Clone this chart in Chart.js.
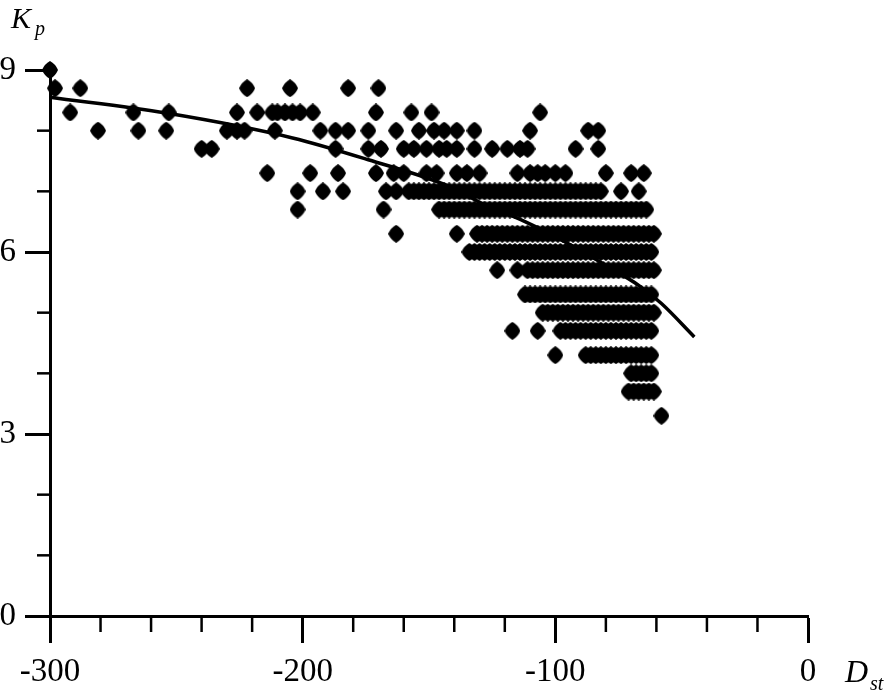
<!DOCTYPE html>
<html>
<head>
<meta charset="utf-8">
<script src="https://cdn.jsdelivr.net/npm/chart.js@4.4.0/dist/chart.umd.min.js"></script>
<style>
  body { margin: 0; background: #fff; }
  canvas { display: block; }
</style>
</head>
<body>
<canvas id="grafico" width="886" height="691"></canvas>
<script>
// Valores de Kp (níveis) e Dst de cada ponto
var kpLevels = [9, 8.7, 8.3, 8, 7.7, 7.3, 7, 6.7, 6.3, 6, 5.7, 5.3, 5, 4.7, 4.3, 4, 3.7, 3.3];

var dstKp90 = [-300];
var dstKp87 = [-298, -288, -222, -205, -182, -170];
var dstKp83 = [-292, -267, -253, -226, -218, -212, -210, -207, -204, -201, -196, -171, -157, -149, -106];
var dstKp80 = [-281, -265, -254, -230, -226, -223, -211, -193, -187, -182, -174, -163, -154, -148, -144, -139, -132, -110, -87, -83];
var dstKp77 = [-240, -236, -187, -174, -169, -160, -156, -151, -146, -143, -139, -132, -125, -119, -114, -111, -92, -83];
var dstKp73 = [-214, -197, -186, -171, -164, -160, -151, -147, -139, -135, -130, -115, -110, -107, -104, -100, -96, -80, -70, -65];
var dstKp70 = [-202, -192, -184, -167, -163, -158, -156, -154, -152, -150, -148, -146, -144, -142, -140, -138, -136,
    -134, -132, -130, -128, -126, -124, -122, -120, -118, -116, -114, -112, -110, -108, -106, -104, -102, -100,
    -98, -96, -94, -92, -90, -88, -86, -84, -82, -74, -67];
var dstKp67 = [-202, -168, -146, -144, -142, -140, -138, -136, -134, -132, -130, -128, -126, -124, -122, -120,
    -118, -116, -114, -112, -110, -108, -106, -104, -102, -100, -98, -96, -94, -92, -90, -88, -86, -84, -82, -80,
    -78, -76, -74, -72, -70, -68, -66, -64];
var dstKp63 = [-163, -139, -131, -129, -127, -125, -123, -121, -119, -117, -115, -113, -111, -109, -107, -105,
    -103, -101, -99, -97, -95, -93, -91, -89, -87, -85, -83, -81, -79, -77, -75, -73, -71, -69, -67, -65, -63, -61];
var dstKp60 = [-134, -132, -130, -128, -126, -124, -122, -120, -118, -116, -114, -112, -110, -108, -106, -104,
    -102, -100, -98, -96, -94, -92, -90, -88, -86, -84, -82, -80, -78, -76, -74, -72, -70, -68, -66, -64, -62];
var dstKp57 = [-123, -115, -111, -109, -107, -105, -103, -101, -99, -97, -95, -93, -91, -89, -87, -85, -83, -81,
    -79, -77, -75, -73, -71, -69, -67, -65, -63, -61];
var dstKp53 = [-112, -110, -108, -106, -104, -102, -100, -98, -96, -94, -92, -90, -88, -86, -84, -82, -80, -78,
    -76, -74, -72, -70, -68, -66, -64, -62];
var dstKp50 = [-105, -103, -101, -99, -97, -95, -93, -91, -89, -87, -85, -83, -81, -79, -77, -75, -73, -71, -69,
    -67, -65, -63, -61];
var dstKp47 = [-117, -107, -98, -96, -94, -92, -90, -88, -86, -84, -82, -80, -78, -76, -74, -72, -70, -68, -66,
    -64, -62];
var dstKp43 = [-100, -88, -86, -84, -82, -80, -78, -76, -74, -72, -70, -68, -66, -64, -62];
var dstKp40 = [-70, -68, -66, -64, -62];
var dstKp37 = [-71, -69, -67, -65, -63, -61];
var dstKp33 = [-58];

var dstPorNivel = [dstKp90, dstKp87, dstKp83, dstKp80, dstKp77, dstKp73, dstKp70, dstKp67, dstKp63,
    dstKp60, dstKp57, dstKp53, dstKp50, dstKp47, dstKp43, dstKp40, dstKp37, dstKp33];

// Curva de ajuste
var fitDst = [-300, -254, -204, -174, -142, -129, -112, -95, -80, -67, -58, -45];
var fitKp = [8.55, 8.29, 7.88, 7.52, 7.08, 6.8, 6.5, 6.14, 5.78, 5.45, 5.15, 4.6];

// Marcas dos eixos
var xTicksMaiores = [-300, -200, -100, 0];
var xTicksMenores = [-280, -260, -240, -220, -180, -160, -140, -120, -80, -60, -40, -20];
var yTicksMaiores = [0, 3, 6, 9];
var yTicksMenores = [1, 2, 4, 5, 7, 8];

var pontos = [];
kpLevels.forEach(function (kp, i) {
    dstPorNivel[i].forEach(function (d) {
        pontos.push({ x: d, y: kp });
    });
});
var curva = fitDst.map(function (d, i) { return { x: d, y: fitKp[i] }; });

var fonte = 'Liberation Serif';

// Losango arredondado usado como marcador
function criarLosango() {
    var c = document.createElement('canvas');
    var w = 16, h = 18;
    c.width = w;
    c.height = h;
    var g = c.getContext('2d');
    g.fillStyle = '#000';
    g.beginPath();
    g.moveTo(w / 2, 0);
    g.quadraticCurveTo(w * 0.84, h * 0.16, w, h / 2);
    g.quadraticCurveTo(w * 0.84, h * 0.84, w / 2, h);
    g.quadraticCurveTo(w * 0.16, h * 0.84, 0, h / 2);
    g.quadraticCurveTo(w * 0.16, h * 0.16, w / 2, 0);
    g.closePath();
    g.fill();
    return c;
}
var losango = criarLosango();

// Plugin para marcas menores e rótulos dos eixos
var extras = {
    id: 'extras',
    afterDraw: function (chart) {
        var ctx = chart.ctx;
        var xs = chart.scales.x, ys = chart.scales.y;
        var area = chart.chartArea;
        ctx.save();
        ctx.strokeStyle = '#000';
        ctx.lineWidth = 2.5;
        xTicksMenores.forEach(function (v) {
            var px = xs.getPixelForValue(v);
            ctx.beginPath();
            ctx.moveTo(px, area.bottom);
            ctx.lineTo(px, area.bottom + 16);
            ctx.stroke();
        });
        yTicksMenores.forEach(function (v) {
            var py = ys.getPixelForValue(v);
            ctx.beginPath();
            ctx.moveTo(area.left - 13, py);
            ctx.lineTo(area.left, py);
            ctx.stroke();
        });
        ctx.fillStyle = '#000';
        ctx.textBaseline = 'alphabetic';
        ctx.textAlign = 'left';
        ctx.font = 'italic 30px "' + fonte + '"';
        ctx.fillText('K', 11, 28);
        ctx.font = 'italic 20px "' + fonte + '"';
        ctx.fillText('p', 35, 35);
        ctx.font = 'italic 32px "' + fonte + '"';
        ctx.fillText('D', 845, 682);
        ctx.font = 'italic 20px "' + fonte + '"';
        ctx.fillText('st', 870, 690);
        ctx.restore();
    }
};

var ctxGrafico = document.getElementById('grafico').getContext('2d');
var grafico = new Chart(ctxGrafico, {
    type: 'scatter',
    data: {
        datasets: [{
            label: 'Kp',
            data: pontos,
            pointStyle: losango,
            pointRadius: 8,
            backgroundColor: '#000',
            borderColor: '#000',
            borderWidth: 0,
            clip: false,
            order: 2
        }, {
            type: 'line',
            label: 'ajuste',
            data: curva,
            borderColor: '#000',
            borderWidth: 3.5,
            pointRadius: 0,
            fill: false,
            cubicInterpolationMode: 'monotone',
            clip: false,
            order: 1
        }]
    },
    options: {
        responsive: false,
        animation: false,
        events: [],
        layout: { padding: { top: 70, right: 78, left: 0, bottom: 0 } },
        plugins: { legend: { display: false }, tooltip: { enabled: false } },
        scales: {
            x: {
                type: 'linear',
                min: -300,
                max: 0,
                afterBuildTicks: function (s) { s.ticks = xTicksMaiores.map(function (v) { return { value: v }; }); },
                afterFit: function (s) { s.height = 75; },
                ticks: {
                    color: '#000',
                    padding: 10,
                    maxRotation: 0,
                    font: { family: fonte, size: 33 },
                    callback: function (v) { return String(v); }
                },
                grid: { drawOnChartArea: false, tickLength: 27, tickWidth: 3, tickColor: '#000', color: '#000' },
                border: { color: '#000', width: 3 }
            },
            y: {
                type: 'linear',
                min: 0,
                max: 9,
                afterBuildTicks: function (s) { s.ticks = yTicksMaiores.map(function (v) { return { value: v }; }); },
                afterFit: function (s) { s.width = 50; },
                ticks: {
                    color: '#000',
                    padding: 9,
                    font: { family: fonte, size: 33 },
                    callback: function (v) { return String(v); }
                },
                grid: { drawOnChartArea: false, tickLength: 25, tickWidth: 3, tickColor: '#000', color: '#000' },
                border: { color: '#000', width: 3 }
            }
        }
    },
    plugins: [extras]
});
</script>
</body>
</html>
